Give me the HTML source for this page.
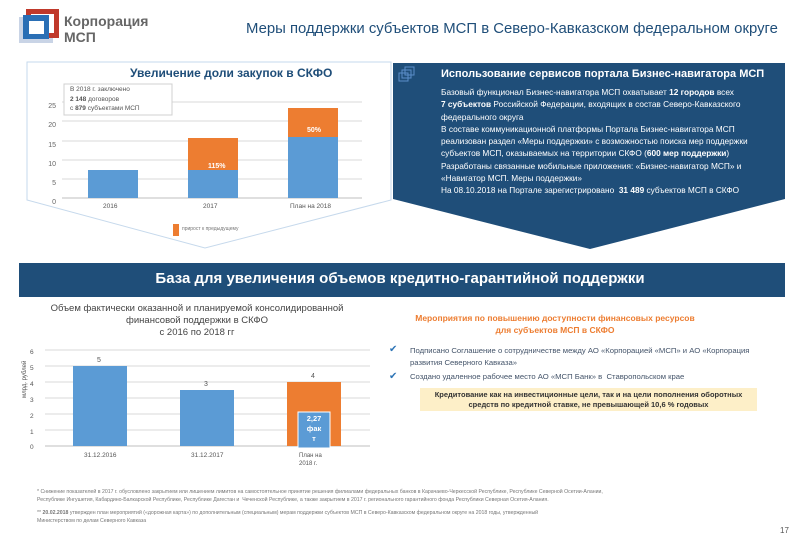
<!DOCTYPE html>
<html><head><meta charset="utf-8"><style>
body{margin:0;width:800px;height:548px;background:#fff;position:relative;overflow:hidden;font-family:"Liberation Sans",sans-serif}
.a{position:absolute;white-space:nowrap}
.rp{color:#fff;font-size:8.3px;line-height:12.3px}
</style></head><body>
<svg class="a" style="left:0;top:0" width="800" height="548">
 <rect x="19" y="17" width="34" height="26" fill="#c9d4e6"/>
 <rect x="26" y="9" width="33" height="29" fill="#c0392b"/>
 <rect x="31" y="14" width="23" height="19" fill="#fff"/>
 <rect x="23" y="15" width="26" height="24" fill="#2a6fb5"/>
 <rect x="29" y="21" width="15" height="13" fill="#fff"/>
 <polygon points="27,62 391,62 391,200 205,248 27,200" fill="#fff" stroke="#c6d9ec" stroke-width="1"/>
 <g stroke="#d9d9d9" stroke-width="1">
  <line x1="62" y1="102" x2="362" y2="102"/><line x1="62" y1="121" x2="362" y2="121"/>
  <line x1="62" y1="141" x2="362" y2="141"/><line x1="62" y1="160" x2="362" y2="160"/>
  <line x1="62" y1="179" x2="362" y2="179"/></g>
 <line x1="62" y1="198" x2="362" y2="198" stroke="#bfbfbf"/>
 <rect x="88" y="170" width="50" height="28" fill="#5b9bd5"/>
 <rect x="188" y="170" width="50" height="28" fill="#5b9bd5"/>
 <rect x="188" y="138" width="50" height="32" fill="#ed7d31"/>
 <rect x="288" y="137" width="50" height="61" fill="#5b9bd5"/>
 <rect x="288" y="108" width="50" height="29" fill="#ed7d31"/>
 <rect x="173" y="224" width="6" height="12" fill="#ed7d31"/>
 <rect x="64" y="84" width="108" height="31" fill="#fff" stroke="#d0d0d0"/>
 <polygon points="393,63 785,63 785,199 590,249 393,199" fill="#1f4e79"/>
 <rect x="399" y="73" width="9" height="8" fill="none" stroke="#5b8ec9"/>
 <rect x="402" y="70" width="9" height="8" fill="none" stroke="#5b8ec9"/>
 <rect x="405" y="67" width="9" height="8" fill="none" stroke="#5b8ec9"/>
 <rect x="19" y="263" width="766" height="34" fill="#1f4e79"/>
 <g stroke="#d9d9d9"><line x1="45" y1="350" x2="370" y2="350"/><line x1="45" y1="366" x2="370" y2="366"/>
 <line x1="45" y1="382" x2="370" y2="382"/><line x1="45" y1="398" x2="370" y2="398"/><line x1="45" y1="414" x2="370" y2="414"/><line x1="45" y1="430" x2="370" y2="430"/></g>
 <line x1="45" y1="446" x2="370" y2="446" stroke="#bfbfbf"/>
 <rect x="73" y="366" width="54" height="80" fill="#5b9bd5"/>
 <rect x="180" y="390" width="54" height="56" fill="#5b9bd5"/>
 <rect x="287" y="382" width="54" height="64" fill="#ed7d31"/>
 <rect x="298" y="412" width="32" height="36" fill="#5b9bd5" stroke="#fff"/>
 <rect x="420" y="388" width="337" height="23" fill="#fdefc8"/>
</svg>
<div class="a" style="left:64px;top:13px;font-size:14px;font-weight:bold;color:#666;line-height:16px">Корпорация<br>МСП</div>
<div class="a" style="left:246px;top:21px;font-size:14.9px;color:#1f4e79">Меры поддержки субъектов МСП в Северо-Кавказском федеральном округе</div>
<div class="a" style="left:130px;top:66px;font-size:12px;font-weight:bold;color:#1f4e79">Увеличение доли закупок в СКФО</div>
<div class="a" style="left:70px;top:85px;font-size:6.5px;color:#555;line-height:9.5px">В 2018 г. заключено<br><b>2 148</b> договоров<br>с <b>879</b> субъектами МСП</div>
<div class="a" style="left:40px;top:97px;font-size:7px;color:#666;line-height:19.3px;text-align:right;width:16px">25<br>20<br>15<br>10<br>5<br>0</div>
<div class="a" style="left:103px;top:203px;font-size:6.5px;color:#555">2016</div>
<div class="a" style="left:203px;top:203px;font-size:6.5px;color:#555">2017</div>
<div class="a" style="left:290px;top:203px;font-size:6.5px;color:#555">План на 2018</div>
<div class="a" style="left:208px;top:163px;font-size:7px;font-weight:bold;color:#fff">115%</div>
<div class="a" style="left:307px;top:127px;font-size:7px;font-weight:bold;color:#fff">50%</div>
<div class="a" style="left:182px;top:226px;font-size:5px;color:#777">прирост к предыдущему</div>
<div class="a" style="left:441px;top:68px;font-size:11px;font-weight:bold;color:#fff">Использование сервисов портала Бизнес-навигатора МСП</div>
<div class="a rp" style="left:441px;top:86px">Базовый функционал Бизнес-навигатора МСП охватывает <b>12 городов</b> всех<br><b>7 субъектов</b> Российской Федерации, входящих в состав Северо-Кавказского<br>федерального округа<br>В составе коммуникационной платформы Портала Бизнес-навигатора МСП<br>реализован раздел «Меры поддержки» с возможностью поиска мер поддержки<br>субъектов МСП, оказываемых на территории СКФО (<b>600 мер поддержки</b>)<br>Разработаны связанные мобильные приложения: «Бизнес-навигатор МСП» и<br>«Навигатор МСП. Меры поддержки»<br>На 08.10.2018 на Портале зарегистрировано&nbsp; <b>31 489</b> субъектов МСП в СКФО</div>
<div class="a" style="left:0;width:800px;text-align:center;top:270px;font-size:15px;font-weight:bold;color:#fff">База для увеличения объемов кредитно-гарантийной поддержки</div>
<div class="a" style="left:27px;width:340px;text-align:center;top:303px;font-size:9.5px;color:#444;line-height:12px">Объем фактически оказанной и планируемой консолидированной<br>финансовой поддержки в СКФО<br>с 2016 по 2018 гг</div>
<div class="a" style="left:30px;top:345px;font-size:6.5px;color:#555;line-height:15.9px">6<br>5<br>4<br>3<br>2<br>1<br>0</div>
<div class="a" style="left:22px;top:398px;font-size:6px;color:#555;transform:rotate(-90deg);transform-origin:0 0">млрд. рублей</div>
<div class="a" style="left:97px;top:357px;font-size:7px;color:#555">5</div>
<div class="a" style="left:204px;top:381px;font-size:7px;color:#555">3</div>
<div class="a" style="left:311px;top:373px;font-size:7px;color:#555">4</div>
<div class="a" style="left:301px;top:414px;width:26px;text-align:center;font-size:7.5px;font-weight:bold;color:#fff;line-height:10px">2,27<br>фак<br>т</div>
<div class="a" style="left:84px;top:452px;font-size:6.5px;color:#555">31.12.2016</div>
<div class="a" style="left:191px;top:452px;font-size:6.5px;color:#555">31.12.2017</div>
<div class="a" style="left:299px;top:452px;font-size:6px;color:#555;line-height:8px">План на<br>2018 г.</div>
<div class="a" style="left:400px;width:310px;text-align:center;top:312px;font-size:8.5px;font-weight:bold;color:#ed7d31;line-height:12px">Мероприятия по повышению доступности финансовых ресурсов<br>для субъектов МСП в СКФО</div>
<div class="a" style="left:389px;top:344px;font-size:10px;color:#2e75b6">✔</div>
<div class="a" style="left:389px;top:371px;font-size:10px;color:#2e75b6">✔</div>
<div class="a" style="left:410px;top:345px;font-size:7.7px;color:#44546a;line-height:12px">Подписано Соглашение о сотрудничестве между АО «Корпорацией «МСП» и АО «Корпорация<br>развития Северного Кавказа»</div>
<div class="a" style="left:410px;top:372px;font-size:7.7px;color:#44546a">Создано удаленное рабочее место АО «МСП Банк» в&nbsp; Ставропольском крае</div>
<div class="a" style="left:420px;width:337px;text-align:center;top:390px;font-size:7.5px;font-weight:bold;color:#333;line-height:10px">Кредитование как на инвестиционные цели, так и на цели пополнения оборотных<br>средств по кредитной ставке, не превышающей 10,6 % годовых</div>
<div class="a" style="left:37px;top:488px;font-size:5.2px;color:#777;line-height:8px">* Снижение показателей в 2017 г. обусловлено закрытием или лишением лимитов на самостоятельное принятие решения филиалами федеральных банков в Карачаево-Черкесской Республике, Республике Северной Осетии-Алании,<br>Республике Ингушетия, Кабардино-Балкарской Республике, Республике Дагестан и&nbsp; Чеченской Республике, а также закрытием в 2017 г. регионального гарантийного фонда Республики Северная Осетия-Алания.</div>
<div class="a" style="left:37px;top:509px;font-size:5.2px;color:#777;line-height:8px">** <b>20.02.2018</b> утвержден план мероприятий («дорожная карта») по дополнительным (специальным) мерам поддержки субъектов МСП в Северо-Кавказском федеральном округе на 2018 годы, утвержденный<br>Министерством по делам Северного Кавказа</div>
<div class="a" style="left:780px;top:526px;font-size:8px;color:#555">17</div>
</body></html>
